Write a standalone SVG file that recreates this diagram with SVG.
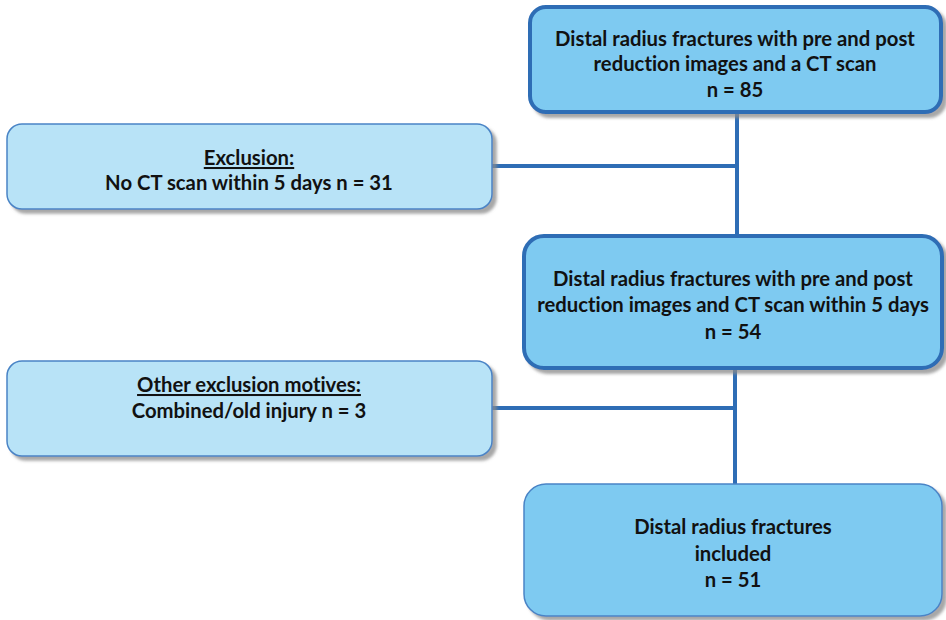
<svg xmlns="http://www.w3.org/2000/svg" width="946" height="620" viewBox="0 0 946 620">
  <defs>
    <filter id="shadow" x="-5%" y="-10%" width="115%" height="130%">
      <feGaussianBlur in="SourceAlpha" stdDeviation="1.5"/>
      <feOffset dx="4" dy="4" result="off"/>
      <feFlood flood-color="#8a8a8a" flood-opacity="0.75"/>
      <feComposite in2="off" operator="in"/>
      <feMerge><feMergeNode/><feMergeNode in="SourceGraphic"/></feMerge>
    </filter>
  </defs>
  <style>
    .main { fill: #7ecaf1; stroke: #2e6db5; stroke-width: 4; filter: url(#shadow); }
    .final { fill: #7ecaf1; stroke: #4a84c6; stroke-width: 1.5; filter: url(#shadow); }
    .excl { fill: #b8e3f7; stroke: #4a84c6; stroke-width: 1.5; filter: url(#shadow); }
    .label { font-family: "Lato", "Open Sans", "Liberation Sans", sans-serif; font-weight: bold; font-size: 20.3px; fill: #111; text-anchor: middle; font-variant-ligatures: none; }
    .head { text-decoration: underline; }
    .link { stroke: #2e6db5; stroke-width: 4; fill: none; }
  </style>

  <g id="connectors">
    <path class="link" d="M737 112 V236 M492 166 H737"/>
    <path class="link" d="M735 368 V484 M492 408 H735"/>
  </g>

  <g id="all-fractures">
    <rect class="main" x="530" y="7" width="411" height="105" rx="16"/>
    <text class="label" x="735" y="46">Distal radius fractures with pre and post</text>
    <text class="label" x="735" y="71">reduction images and a CT scan</text>
    <text class="label" x="735" y="97">n = 85</text>
  </g>

  <g id="exclusion">
    <rect class="excl" x="7" y="124" width="485" height="85" rx="15"/>
    <text class="label head" x="249" y="165">Exclusion:</text>
    <text class="label" x="249" y="190">No CT scan within 5 days n = 31</text>
  </g>

  <g id="ct-within-5-days">
    <rect class="main" x="524" y="236" width="418" height="132" rx="20"/>
    <text class="label" x="733" y="286">Distal radius fractures with pre and post</text>
    <text class="label" x="733" y="312">reduction images and CT scan within 5 days</text>
    <text class="label" x="733" y="339">n = 54</text>
  </g>

  <g id="other-exclusion">
    <rect class="excl" x="7" y="361" width="485" height="95" rx="15"/>
    <text class="label head" x="249" y="392">Other exclusion motives:</text>
    <text class="label" x="249" y="418">Combined/old injury n = 3</text>
  </g>

  <g id="included">
    <rect class="final" x="524" y="484" width="418" height="132" rx="22"/>
    <text class="label" x="733" y="534">Distal radius fractures</text>
    <text class="label" x="733" y="561">included</text>
    <text class="label" x="733" y="587">n = 51</text>
  </g>
</svg>
